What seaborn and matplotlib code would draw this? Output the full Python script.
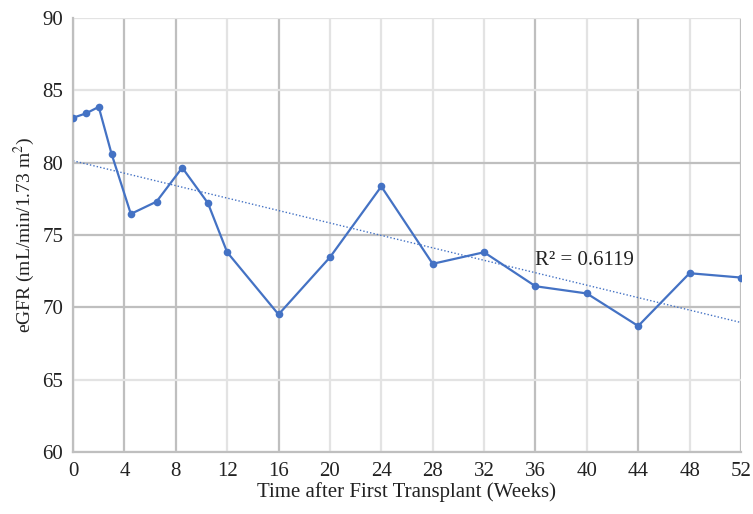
import numpy as np
import pandas as pd
import matplotlib
matplotlib.use("Agg")
import matplotlib.pyplot as plt
import seaborn as sns

# datos
semanas = [0, 1, 2, 3, 4.5, 6.5, 8.5, 10.5, 12, 16, 20, 24, 28, 32, 36, 40, 44, 48, 52]
egfr = [83.1, 83.4, 83.85, 80.6, 76.45, 77.3, 79.65, 77.2, 73.8, 69.5, 73.45,
        78.35, 73.0, 73.8, 71.45, 70.95, 68.7, 72.35, 72.05]
x_ticks = list(range(0, 53, 4))
y_ticks = list(range(60, 91, 5))
r2_texto = "R² = 0.6119"

df = pd.DataFrame({"semana": semanas, "egfr": egfr})

sns.set_style("white")
plt.rcParams["font.family"] = ["Liberation Serif", "DejaVu Serif"]
plt.rcParams["mathtext.fontset"] = "stix"

azul = "#4472C4"
gris_osc = "#bfbfbf"
gris_cla = "#e3e3e3"
texto = "#222222"

fig = plt.figure(figsize=(7.53, 5.14), dpi=100)
ax = fig.add_axes([0.097, 0.121, 0.887, 0.844])

ax.set_xlim(0, 52)
ax.set_ylim(60, 90)
ax.set_xticks(x_ticks)
ax.set_yticks(y_ticks)

# cuadricula con dos tonos, como en la imagen original
oscuras_x = {0, 4, 8, 16, 36, 44, 52}
oscuras_y = {70, 75, 80}
for t in x_ticks:
    c = gris_osc if t in oscuras_x else gris_cla
    ax.axvline(t, color=c, lw=1.6, zorder=0)
for t in y_ticks:
    c = gris_osc if t in oscuras_y else gris_cla
    ax.axhline(t, color=c, lw=1.6, zorder=0)

# linea de tendencia
sns.regplot(data=df, x="semana", y="egfr", ax=ax, scatter=False, ci=None,
            line_kws={"color": azul, "lw": 1.0, "ls": (0, (1, 1.5))})

sns.lineplot(data=df, x="semana", y="egfr", ax=ax, color=azul, lw=1.6,
             marker="o", markersize=5.5, markeredgewidth=0, zorder=3)

ax.text(36.0, 73.25, r2_texto, fontsize=15, color=texto, va="center")

for s in ["top", "right"]:
    ax.spines[s].set_visible(False)
for s in ["left", "bottom"]:
    ax.spines[s].set_color(gris_osc)
    ax.spines[s].set_linewidth(1.6)

ax.tick_params(axis="both", length=0, labelsize=15, colors=texto, pad=7)
ax.set_xlabel("Time after First Transplant (Weeks)", fontsize=15, color=texto, labelpad=1)
ax.set_ylabel("eGFR (mL/min/1.73 m$^2$)", fontsize=14, color=texto, labelpad=4)

fig.savefig("out.png", dpi=100)
